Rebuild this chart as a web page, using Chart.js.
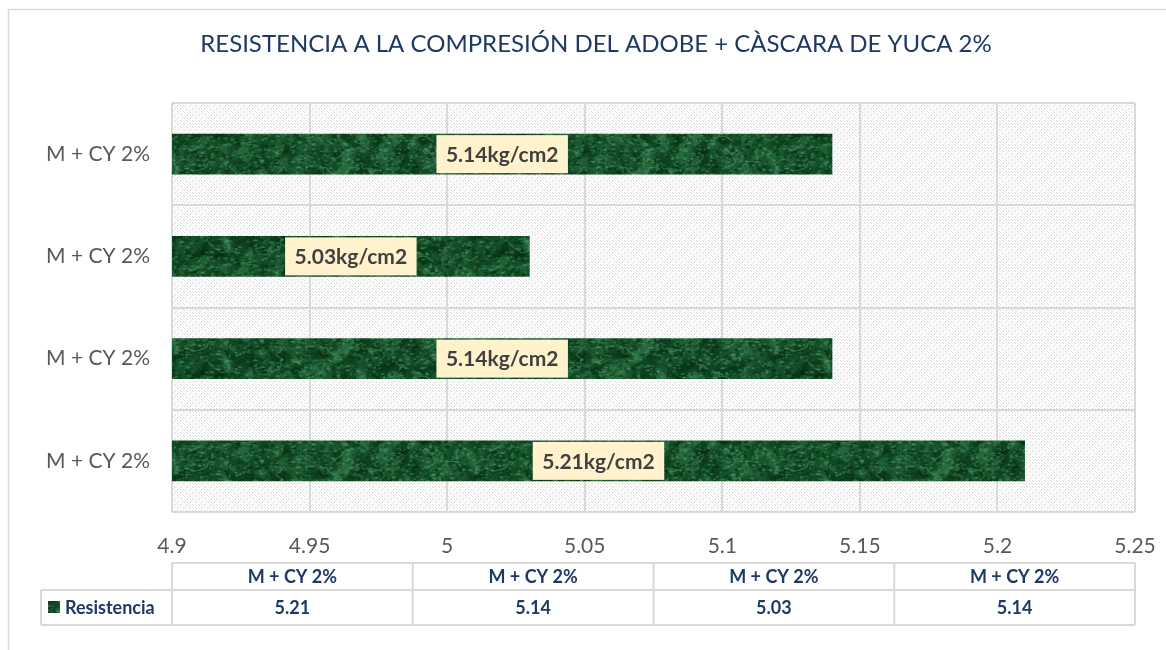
<!DOCTYPE html>
<html>
<head>
<meta charset="utf-8">
<title>Resistencia a la compresión</title>
<script src="https://cdn.jsdelivr.net/npm/chart.js@4.4.1/dist/chart.umd.min.js"></script>
<style>
  html, body { margin: 0; padding: 0; background: #fff; }
  canvas { display: block; }
</style>
</head>
<body>
<canvas id="chart" width="1166" height="650"></canvas>
<script>
  const categories = ['M + CY 2%', 'M + CY 2%', 'M + CY 2%', 'M + CY 2%'];
  const resistencia = [5.21, 5.14, 5.03, 5.14];
  const seriesName = 'Resistencia';
  const unit = 'kg/cm2';
  const title = 'RESISTENCIA A LA COMPRESIÓN DEL ADOBE + CÀSCARA DE YUCA 2%';
  const xMin = 4.9;
  const xMax = 5.25;
  const xStep = 0.05;

  const FONT = 'Lato, "Open Sans", sans-serif';
  const NAVY = '#1F3864';
  const GRID = '#D9D9D9';

  // deterministic noise for the bar texture
  function hash(n) {
    const s = Math.sin(n * 12.9898 + 78.233) * 43758.5453;
    return s - Math.floor(s);
  }

  function marbleTexture() {
    const w = 300, h = 60;
    const raw = document.createElement('canvas');
    raw.width = w; raw.height = h;
    const c = raw.getContext('2d');
    c.fillStyle = '#17502D';
    c.fillRect(0, 0, w, h);
    const tones = ['#042A0F', '#083516', '#0C401D', '#2A7242', '#3A8555', '#174F2B', '#1F6037'];
    const wrap = draw => {
      // repeat every stroke across the tile edges so the pattern has no seams
      for (const dx of [-w, 0, w]) {
        for (const dy of [-h, 0, h]) {
          c.save();
          c.translate(dx, dy);
          draw();
          c.restore();
        }
      }
    };
    for (let i = 0; i < 900; i++) {
      const r = 2 + hash(i + 9000) * 9;
      const x = hash(i) * w, y = hash(i + 5000) * h;
      const ry = r * (0.3 + hash(i + 21000) * 0.7), rot = hash(i + 25000) * Math.PI;
      c.globalAlpha = 0.18 + hash(i + 13000) * 0.3;
      c.fillStyle = tones[Math.floor(hash(i + 17000) * tones.length)];
      wrap(() => { c.beginPath(); c.ellipse(x, y, r, ry, rot, 0, Math.PI * 2); c.fill(); });
    }
    for (let i = 0; i < 1400; i++) {
      const x = hash(i + 43000) * w, y = hash(i + 44000) * h;
      const r = 1 + hash(i + 45000) * 1.5;
      c.globalAlpha = 0.25 + hash(i + 41000) * 0.35;
      c.fillStyle = hash(i + 42000) > 0.5 ? '#4C9566' : '#05300F';
      wrap(() => { c.beginPath(); c.ellipse(x, y, r, 1, 0, 0, Math.PI * 2); c.fill(); });
    }
    // curly light veins
    c.lineWidth = 1.2;
    for (let i = 0; i < 45; i++) {
      const pts = [[hash(i + 30000) * w, hash(i + 31000) * h]];
      for (let k = 0; k < 6; k++) {
        const [px, py] = pts[pts.length - 1];
        pts.push([px + (hash(i * 7 + k + 32000) - 0.4) * 14, py + (hash(i * 7 + k + 33000) - 0.5) * 12]);
      }
      c.globalAlpha = 0.25 + hash(i + 34000) * 0.25;
      c.strokeStyle = hash(i + 35000) > 0.3 ? '#5FA77A' : '#03260C';
      wrap(() => {
        c.beginPath();
        c.moveTo(pts[0][0], pts[0][1]);
        for (let k = 1; k < pts.length - 1; k++) {
          const mx = (pts[k][0] + pts[k + 1][0]) / 2, my = (pts[k][1] + pts[k + 1][1]) / 2;
          c.quadraticCurveTo(pts[k][0], pts[k][1], mx, my);
        }
        c.stroke();
      });
    }
    // soften: tile 3x3, blur the whole block in one pass, keep the centre
    const big = document.createElement('canvas');
    big.width = w * 3; big.height = h * 3;
    const b = big.getContext('2d');
    for (let ix = 0; ix < 3; ix++) {
      for (let iy = 0; iy < 3; iy++) b.drawImage(raw, ix * w, iy * h);
    }
    const soft = document.createElement('canvas');
    soft.width = w * 3; soft.height = h * 3;
    const s = soft.getContext('2d');
    s.filter = 'blur(0.7px)';
    s.drawImage(big, 0, 0);
    const out = document.createElement('canvas');
    out.width = w; out.height = h;
    out.getContext('2d').drawImage(soft, w, h, w, h, 0, 0, w, h);
    return out;
  }

  function hatchTexture() {
    const t = document.createElement('canvas');
    t.width = 6; t.height = 6;
    const c = t.getContext('2d');
    c.fillStyle = '#ffffff';
    c.fillRect(0, 0, 6, 6);
    c.fillStyle = '#D4D4D4';
    for (let i = 0; i < 6; i++) {
      if (i % 3 !== 2) c.fillRect(i, i, 1, 1);
    }
    c.fillStyle = '#E8E8E8';
    for (let i = 0; i < 6; i++) {
      c.fillRect((i + 3) % 6, i, 1, 1);
    }
    return t;
  }

  const canvas = document.getElementById('chart');
  const ctx = canvas.getContext('2d');
  const barPattern = ctx.createPattern(marbleTexture(), 'repeat');
  const hatchPattern = ctx.createPattern(hatchTexture(), 'repeat');

  const backgroundPlugin = {
    id: 'background',
    beforeDraw(chart) {
      const c = chart.ctx;
      const a = chart.chartArea;
      c.save();
      c.fillStyle = '#fff';
      c.fillRect(0, 0, chart.width, chart.height);
      // outer chart frame
      c.strokeStyle = GRID;
      c.lineWidth = 1.5;
      c.beginPath();
      c.moveTo(8.5, chart.height);
      c.lineTo(8.5, 9.5);
      c.lineTo(chart.width, 9.5);
      c.stroke();
      c.fillStyle = hatchPattern;
      c.fillRect(a.left, a.top, a.right - a.left, a.bottom - a.top);
      // chart title
      c.font = '24px ' + FONT;
      c.fillStyle = NAVY;
      c.textAlign = 'center';
      c.textBaseline = 'middle';
      c.fillText(title, 596, 44);
      c.restore();
    }
  };

  const overlays = {
    id: 'overlays',
    afterDraw(chart) {
      const c = chart.ctx;
      const a = chart.chartArea;
      c.save();

      // value labels centred on the visible part of each bar
      c.font = 'bold 21px ' + FONT;
      c.textAlign = 'center';
      c.textBaseline = 'middle';
      chart.getDatasetMeta(0).data.forEach((bar, i) => {
        const p = bar.getProps(['x', 'y', 'base'], true);
        const text = resistencia[i].toFixed(2) + unit;
        const start = Math.max(Math.min(p.x, p.base), a.left);
        const end = Math.min(Math.max(p.x, p.base), a.right);
        const cx = (start + end) / 2;
        const w = c.measureText(text).width + 19;
        const h = 38;
        c.fillStyle = '#FFF2CC';
        c.fillRect(cx - w / 2, p.y - h / 2, w, h);
        c.fillStyle = '#404040';
        c.fillText(text, cx, p.y + 1);
      });

      // data table under the axis
      const colW = (a.right - a.left) / categories.length;
      const top = 563, mid = 590, bottom = 625, left = 41;
      c.strokeStyle = GRID;
      c.lineWidth = 2;
      c.beginPath();
      c.moveTo(a.left, top); c.lineTo(a.right, top);
      c.moveTo(left, mid); c.lineTo(a.right, mid);
      c.moveTo(left, bottom); c.lineTo(a.right, bottom);
      c.moveTo(left, mid); c.lineTo(left, bottom);
      for (let i = 0; i <= categories.length; i++) {
        const x = a.left + colW * i;
        c.moveTo(x, top); c.lineTo(x, bottom);
      }
      c.stroke();

      c.font = 'bold 18px ' + FONT;
      c.fillStyle = NAVY;
      categories.forEach((cat, i) => {
        const cx = a.left + colW * (i + 0.5);
        c.fillText(cat, cx, (top + mid) / 2 + 1);
        c.fillText(resistencia[i].toFixed(2), cx, (mid + bottom) / 2 + 1);
      });

      // legend key
      c.fillStyle = barPattern;
      c.fillRect(48, 601, 12, 12);
      c.fillStyle = NAVY;
      c.textAlign = 'left';
      c.fillText(seriesName, 65, (mid + bottom) / 2 + 1);
      c.restore();
    }
  };

  new Chart(ctx, {
    type: 'bar',
    data: {
      labels: categories,
      datasets: [{
        label: seriesName,
        data: resistencia,
        backgroundColor: barPattern,
        borderWidth: 0,
        categoryPercentage: 1,
        barPercentage: 0.4
      }]
    },
    options: {
      indexAxis: 'y',
      responsive: false,
      animation: false,
      layout: { padding: { left: 0, top: 103, right: 31, bottom: 88 } },
      scales: {
        x: {
          min: xMin,
          max: xMax,
          ticks: {
            stepSize: xStep,
            padding: 22,
            color: '#595959',
            font: { family: FONT, size: 21 },
            callback: v => +v.toFixed(2)
          },
          grid: { color: GRID, lineWidth: 2, drawTicks: false },
          border: { display: false },
          afterFit: s => {
            s.height = 50;
            s.paddingLeft = 0;
            s.paddingRight = 0;
          }
        },
        y: {
          reverse: true,
          ticks: {
            padding: 22,
            color: '#595959',
            font: { family: FONT, size: 21 }
          },
          grid: { color: GRID, lineWidth: 2, offset: true, drawTicks: false },
          border: { display: false },
          afterFit: s => {
            s.width = 172;
            s.paddingTop = 0;
            s.paddingBottom = 0;
          }
        }
      },
      plugins: {
        legend: { display: false },
        tooltip: { enabled: false },
        title: { display: false }
      }
    },
    plugins: [backgroundPlugin, overlays]
  });
</script>
</body>
</html>
